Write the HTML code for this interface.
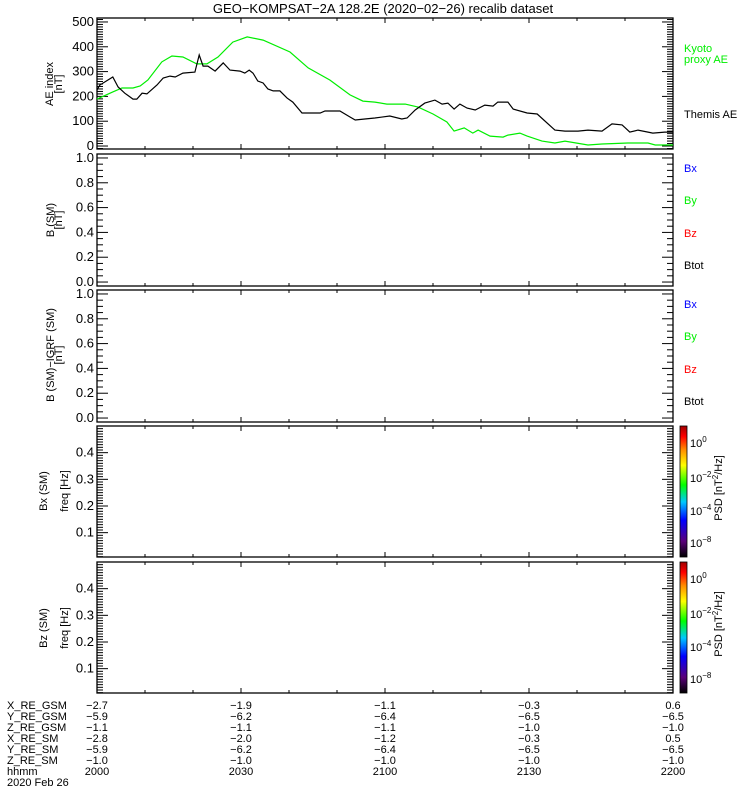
<!DOCTYPE html>
<html><head><meta charset="utf-8"><style>
body{margin:0;background:#fff;}
svg{display:block;font-family:"Liberation Sans",sans-serif;}
</style></head><body>
<svg id="c" width="750" height="800" viewBox="0 0 750 800">
<defs><linearGradient id="cb" x1="0" y1="1" x2="0" y2="0">
<stop offset="0" stop-color="#000"/><stop offset="0.12" stop-color="#5a007a"/><stop offset="0.28" stop-color="#0000ff"/><stop offset="0.42" stop-color="#00c8ff"/><stop offset="0.55" stop-color="#00ff00"/><stop offset="0.7" stop-color="#ffff00"/><stop offset="0.82" stop-color="#ff8c00"/><stop offset="0.92" stop-color="#ff0000"/><stop offset="1" stop-color="#a00000"/>
</linearGradient></defs>
</svg>
<script>
const aeThemisT=[0,0.6,3.3,4.4,5.8,7.5,8.3,9.4,10.4,12.5,13.8,15.2,16.3,17.9,20.4,21.3,22.1,23.1,24.6,26.3,27.7,29.8,30.8,31.7,32.5,33.5,34.6,35.6,36.7,38.1,39.6,40.8,42.7,46.5,47.5,50.6,52.7,53.8,55.8,57.9,61,63.5,64.6,66.3,68.3,70.4,71.9,73.1,74.4,75.6,77.1,78.8,80.8,82.5,83.5,85.6,86.7,89.6,91.7,95.4,97.5,100.2,102.3,105.2,107.3,109.4,111,112.7,114.8,115.8,118.3,120];
const aeThemisV=[226,246,278,238,213,189,189,213,210,246,274,282,278,294,298,367,322,322,302,335,306,302,294,306,294,262,254,230,222,222,193,177,133,133,141,141,117,105,109,113,121,109,113,145,173,185,169,173,149,169,153,145,165,161,177,177,149,133,129,64,60,60,64,60,89,85,56,64,56,52,56,56];
const aeKyotoT=[0,3.3,5.2,7.5,9,10.6,13.5,15.6,17.9,20.8,22.9,25.2,28.3,31.3,34.6,40.2,44,48.5,52.7,55.4,57.9,60.4,64.2,66.9,70,72.9,74.4,76.5,78.3,79.4,81.9,84.6,85.6,88.1,89.6,92.7,95.4,97.5,102.3,105.2,110.6,114.8,116.3,120];
const aeKyotoV=[189,218,234,234,242,266,339,363,359,331,331,359,419,440,427,379,315,266,206,181,177,169,169,157,129,97,60,73,52,64,40,36,44,52,40,20,12,20,4,8,12,12,4,4];
const xTickLabels=["2000","2030","2100","2130","2200"];
const posRows=["X_RE_GSM","Y_RE_GSM","Z_RE_GSM","X_RE_SM","Y_RE_SM","Z_RE_SM","hhmm"];
const posVals=[["-2.7","-1.9","-1.1","-0.3","0.6"],["-5.9","-6.2","-6.4","-6.5","-6.5"],["-1.1","-1.1","-1.1","-1.0","-1.0"],["-2.8","-2.0","-1.2","-0.3","0.5"],["-5.9","-6.2","-6.4","-6.5","-6.5"],["-1.0","-1.0","-1.0","-1.0","-1.0"],xTickLabels];
const aeTicks=[0,100,200,300,400,500];
const bTicks=[0,0.2,0.4,0.6,0.8,1.0];
const fTicks=[0.1,0.2,0.3,0.4];

const svg=document.getElementById('c');const NS='http://www.w3.org/2000/svg';
function el(tag,at,txt){const e=document.createElementNS(NS,tag);for(const k in at)e.setAttribute(k,at[k]);if(txt!==undefined)e.textContent=txt;svg.appendChild(e);return e;}
const X0=97,X1=673;
const xs=t=>X0+(X1-X0)*t/120;
function line(x1,y1,x2,y2,name){const e=el('line',{x1,y1,x2,y2,stroke:'#000','stroke-width':1});

return e;}
function txt(x,y,s,name,opt){const e=el('text',Object.assign({x,y,'font-size':12,fill:'#000'},opt||{}),s);

return e;}

const panels=[
 {top:18,bot:149,lo:-12,hi:516,ticks:aeTicks,minor:10,major:100,fmt:v=>String(v)},
 {top:154,bot:286,lo:-0.032,hi:1.032,ticks:bTicks,minor:0.05,major:0.2,fmt:v=>v.toFixed(1)},
 {top:290,bot:422,lo:-0.032,hi:1.032,ticks:bTicks,minor:0.05,major:0.2,fmt:v=>v.toFixed(1)},
 {top:426,bot:557,lo:0.0087,hi:0.5,ticks:fTicks,minor:0.01,major:0.1,fmt:v=>v.toFixed(1)},
 {top:562,bot:693,lo:0.0087,hi:0.5,ticks:fTicks,minor:0.01,major:0.1,fmt:v=>v.toFixed(1)}];
panels.forEach((p,i)=>{
 p.y=v=>p.bot-(v-p.lo)/(p.hi-p.lo)*(p.bot-p.top);
 const r=el('rect',{x:X0,y:p.top,width:X1-X0,height:p.bot-p.top,fill:'none',stroke:'#000','stroke-width':1.3});
 
 
 for(let t=0;t<=120;t+=10){const L=(t%30===0)?5:3;line(xs(t),p.bot,xs(t),p.bot-L,'x-tick');line(xs(t),p.top,xs(t),p.top+L,'x-tick');}
 const n=Math.round((p.hi-p.lo)/p.minor)+2;
 for(let k=-1;k<n;k++){const v=Math.ceil(p.lo/p.minor)*p.minor+k*p.minor;if(v<p.lo-1e-9||v>p.hi+1e-9)continue;
  const isMaj=Math.abs(v/p.major-Math.round(v/p.major))<1e-6;const L=isMaj?11:6;const y=p.y(v);
  line(X0,y,X0+L,y,'y-tick');line(X1,y,X1-L,y,'y-tick');}
 p.ticks.forEach(v=>txt(X0-3,p.y(v)+4,p.fmt(v),'y-tick-label',{'text-anchor':'end','font-size':13}));
});
txt(383,13,'GEO−KOMPSAT−2A 128.2E (2020−02−26) recalib dataset','chart-title',{'text-anchor':'middle','font-size':13});
function ytitle(x,y,s,name){txt(x,y,s,name,{'text-anchor':'middle','font-size':11,transform:`rotate(-90 ${x} ${y})`});}
ytitle(53,84,'AE index','ae-y-title');ytitle(62,84,'[nT]','ae-y-unit');
ytitle(54,220,'B (SM)','b-y-title');ytitle(62,220,'[nT]','b-y-unit');
ytitle(54,355,'B (SM)−IGRF (SM)','db-y-title');ytitle(62,355,'[nT]','db-y-unit');
ytitle(47,491,'Bx (SM)','bx-y-title');ytitle(68,491,'freq [Hz]','bx-freq-title');
ytitle(47,628,'Bz (SM)','bz-y-title');ytitle(68,628,'freq [Hz]','bz-freq-title');
function series(T,V,col,name){const p=panels[0];const d=T.map((t,i)=>(i?'L':'M')+xs(t).toFixed(1)+','+p.y(V[i]).toFixed(1)).join('');
 const e=el('path',{d,fill:'none',stroke:col,'stroke-width':1.2});
 
 }
series(aeKyotoT,aeKyotoV,'#00ee00','kyoto-ae-line');
series(aeThemisT,aeThemisV,'#000','themis-ae-line');
txt(684,52,'Kyoto','legend-kyoto',{fill:'#00ee00','font-size':11});
txt(684,63,'proxy AE','legend-kyoto-2',{fill:'#00ee00','font-size':11});
txt(684,118,'Themis AE','legend-themis',{'font-size':11});
[154,290].forEach(b=>{
 txt(684,b+18,'Bx','legend-bx',{fill:'#0000ff','font-size':11});
 txt(684,b+50,'By','legend-by',{fill:'#00ee00','font-size':11});
 txt(684,b+83,'Bz','legend-bz',{fill:'#ff0000','font-size':11});
 txt(684,b+115,'Btot','legend-btot',{'font-size':11});});
[3,4].forEach(i=>{const p=panels[i];
 const r=el('rect',{x:680,y:p.top,width:7,height:p.bot-p.top,fill:'url(#cb)',stroke:'#000','stroke-width':0.8});
 
 
 [['0',21],['−2',56],['−4',89],['−8',121]].forEach(([e,dy])=>{const t=txt(690,p.top+dy,'10','colorbar-label',{'font-size':11});
  const s=document.createElementNS(NS,'tspan');s.setAttribute('dy','-5');s.setAttribute('font-size','8');s.textContent=e;t.appendChild(s);});
 const cy=p.top+62;const t=txt(722,cy,'PSD [nT','psd-label',{'text-anchor':'middle','font-size':11,transform:`rotate(-90 722 ${cy})`});
 const s=document.createElementNS(NS,'tspan');s.setAttribute('dy','-4');s.setAttribute('font-size','8');s.textContent='2';t.appendChild(s);
 const s2=document.createElementNS(NS,'tspan');s2.setAttribute('dy','4');s2.textContent='/Hz]';t.appendChild(s2);
});
posRows.forEach((r,i)=>{const y=709+i*11;txt(7,y,r,'row-label',{'font-size':11});
 posVals[i].forEach((v,j)=>txt(xs(j*30),y,v.replace('-','−'),'row-value',{'text-anchor':'middle','font-size':11}));});
txt(7,786,'2020 Feb 26','date-label',{'font-size':11});
</script>
</body></html>
